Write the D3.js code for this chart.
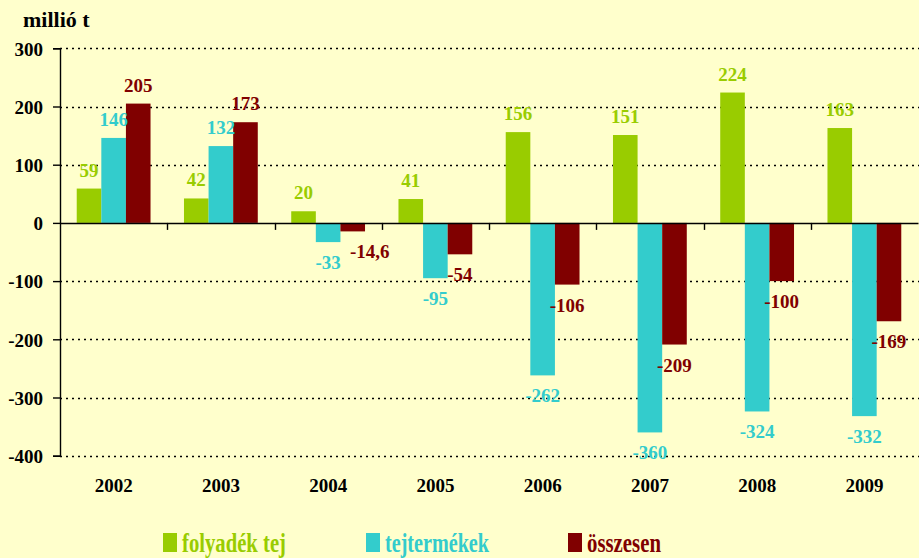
<!DOCTYPE html>
<html>
<head>
<meta charset="utf-8">
<script src="https://cdn.jsdelivr.net/npm/d3@7"></script>
<style>
  html, body { margin: 0; padding: 0; background: #FFFFCC; }
  svg { display: block; }
</style>
</head>
<body>
<svg id="chart" width="919" height="558"></svg>
<script>
const years = ["2002","2003","2004","2005","2006","2007","2008","2009"];
const seriesNames = ["folyadék tej", "tejtermékek", "összesen"];
const folyadekTej = [59, 42, 20, 41, 156, 151, 224, 163];
const tejtermekek = [146, 132, -33, -95, -262, -360, -324, -332];
const osszesen   = [205, 173, -14.6, -54, -106, -209, -100, -169];
const yTicks = [300, 200, 100, 0, -100, -200, -300, -400];
const colors = ["#99CC00", "#33CCCC", "#800000"];
const seriesValues = [folyadekTej, tejtermekek, osszesen];

(function () {
const FONT = "'Liberation Serif', 'Times New Roman', serif";
const svg = d3.select("#chart");
const W = 919, H = 558;
svg.append("rect").attr("width", W).attr("height", H).attr("fill", "#FFFFCC");

const pLeft = 60, pRight = 918, pTop = 48.3, pBottom = 455.7;
const y = d3.scaleLinear().domain([-400, 300]).range([pBottom, pTop]);
const x0 = d3.scaleBand().domain(years).range([pLeft, pRight]).paddingInner(0).paddingOuter(0);
const x1 = d3.scaleBand().domain(seriesNames).range([0, x0.bandwidth()]).paddingInner(0).paddingOuter(0.68);

// gridlines
svg.append("g").selectAll("line").data(yTicks.filter(d => d !== 0)).join("line")
  .attr("x1", pLeft).attr("x2", W)
  .attr("y1", d => Math.round(y(d)) + 0.5).attr("y2", d => Math.round(y(d)) + 0.5)
  .attr("stroke", "#000").attr("stroke-width", 1.4).attr("stroke-dasharray", "2,4");

// y axis
const yAxis = d3.axisLeft(y).tickValues(yTicks).tickSize(7).tickFormat(d => d);
const gy = svg.append("g").attr("transform", `translate(${pLeft},0)`).call(yAxis);
gy.attr("font-family", null).attr("font-size", null);
gy.select(".domain").attr("stroke", "#000").attr("stroke-width", 1.4);
gy.selectAll(".tick line").attr("stroke", "#000").attr("stroke-width", 1.4);
gy.selectAll(".tick text").attr("x", -17).attr("dy", "0.36em")
  .style("font-family", FONT).style("font-weight", "bold").style("font-size", "19px")
  .attr("fill", "#000");

// bars
const data = [];
years.forEach((yr, i) => seriesNames.forEach((s, j) => data.push({yr, s, j, v: seriesValues[j][i]})));
svg.append("g").selectAll("rect").data(data).join("rect")
  .attr("x", d => x0(d.yr) + x1(d.s))
  .attr("width", x1.bandwidth())
  .attr("y", d => y(Math.max(0, d.v)))
  .attr("height", d => Math.abs(y(d.v) - y(0)))
  .attr("fill", d => colors[d.j]);

// x axis at zero
const xAxis = d3.axisBottom(x0).tickSize(0).tickFormat("");
const gx = svg.append("g").attr("transform", `translate(0,${y(0)})`).call(xAxis);
gx.select(".domain").attr("stroke", "#000").attr("stroke-width", 1.5);
// category boundary ticks
svg.append("g").selectAll("line").data(years.slice(1)).join("line")
  .attr("x1", d => Math.round(x0(d)) + 0.5).attr("x2", d => Math.round(x0(d)) + 0.5)
  .attr("y1", y(0)).attr("y2", y(0) + 7)
  .attr("stroke", "#000").attr("stroke-width", 1.4);

// category labels
svg.append("g").selectAll("text").data(years).join("text")
  .attr("x", d => x0(d) + x0.bandwidth() / 2).attr("y", 492)
  .attr("text-anchor", "middle")
  .style("font-family", FONT).style("font-weight", "bold").style("font-size", "19px")
  .attr("fill", "#000")
  .text(d => d);

// value labels
svg.append("g").selectAll("text").data(data).join("text")
  .attr("x", d => x0(d.yr) + x1(d.s) + x1.bandwidth() / 2 + ((d.yr === "2004" && d.j === 2) ? 17 : 0))
  .attr("y", d => d.v >= 0 ? y(d.v) - 12 : y(d.v) + 27)
  .attr("text-anchor", "middle")
  .style("font-family", FONT).style("font-weight", "bold").style("font-size", "19px")
  .attr("fill", d => colors[d.j])
  .text(d => String(d.v).replace(".", ","));

// unit title
svg.append("text").attr("x", 23).attr("y", 27)
  .style("font-family", FONT).style("font-weight", "bold").style("font-size", "22px")
  .attr("fill", "#000").text("millió t");

// legend
const legendX = [163, 366, 568];
const lg = svg.append("g").selectAll("g").data(seriesNames).join("g")
  .attr("transform", (d, i) => `translate(${legendX[i]},0)`);
lg.append("rect").attr("x", 0).attr("y", 533).attr("width", 14).attr("height", 19)
  .attr("fill", (d, i) => colors[i]);
const legendLen = [104, 104, 74];
lg.append("text").attr("x", 19).attr("y", 552)
  .style("font-family", FONT).style("font-weight", "bold").style("font-size", "27px")
  .attr("textLength", (d, i) => legendLen[i]).attr("lengthAdjust", "spacingAndGlyphs")
  .attr("fill", (d, i) => colors[i]).text(d => d);
})();
</script>
</body>
</html>
